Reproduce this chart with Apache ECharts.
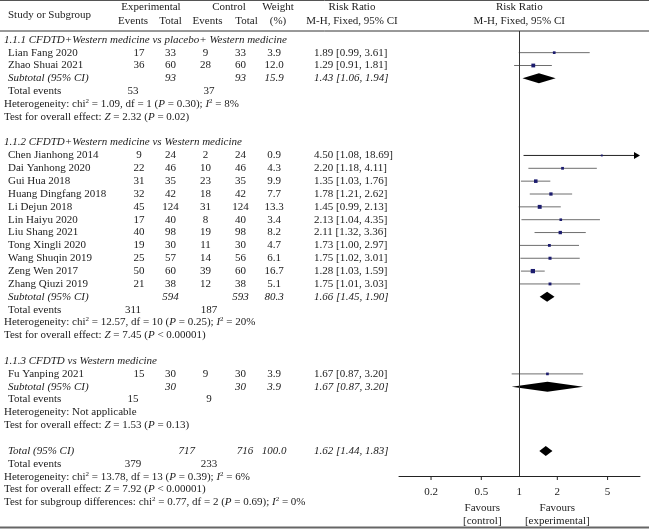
<!DOCTYPE html>
<html><head><meta charset="utf-8">
<script src="https://cdn.jsdelivr.net/npm/echarts@6/dist/echarts.min.js"></script>
<style>html,body{margin:0;padding:0;background:#fff}#c{width:649px;height:531px}</style>
</head><body><div id="c"></div>
<script>
// ---------- data ----------
const groupTitles = ['1.1.1 CFDTD+Western medicine vs placebo+ Western medicine', '1.1.2 CFDTD+Western medicine vs Western medicine', '1.1.3 CFDTD vs Western medicine'];
const studyNames = ['Lian Fang 2020', 'Zhao Shuai 2021', 'Chen Jianhong 2014', 'Dai Yanhong 2020', 'Gui Hua 2018', 'Huang Dingfang 2018', 'Li Dejun 2018', 'Lin Haiyu 2020', 'Liu Shang 2021', 'Tong Xingli 2020', 'Wang Shuqin 2019', 'Zeng Wen 2017', 'Zhang Qiuzi 2019', 'Fu Yanping 2021'];
const studyGroup = [0, 0, 1, 1, 1, 1, 1, 1, 1, 1, 1, 1, 1, 2];
const expEvents = [17, 36, 9, 22, 31, 32, 45, 17, 40, 19, 25, 50, 21, 15];
const expTotal = [33, 60, 24, 46, 35, 42, 124, 40, 98, 30, 57, 60, 38, 30];
const ctrlEvents = [9, 28, 2, 10, 23, 18, 31, 8, 19, 11, 14, 39, 12, 9];
const ctrlTotal = [33, 60, 24, 46, 35, 42, 124, 40, 98, 30, 56, 60, 38, 30];
const studyWeight = [3.9, 12.0, 0.9, 4.3, 9.9, 7.7, 13.3, 3.4, 8.2, 4.7, 6.1, 16.7, 5.1, 3.9];
const studyRR = [1.89, 1.29, 4.50, 2.20, 1.35, 1.78, 1.45, 2.13, 2.11, 1.73, 1.75, 1.28, 1.75, 1.67];
const studyLow = [0.99, 0.91, 1.08, 1.18, 1.03, 1.21, 0.99, 1.04, 1.32, 1.00, 1.02, 1.03, 1.01, 0.87];
const studyHigh = [3.61, 1.81, 18.69, 4.11, 1.76, 2.62, 2.13, 4.35, 3.36, 2.97, 3.01, 1.59, 3.03, 3.20];

const groupExpEvents = [53, 311, 15];
const groupCtrlEvents = [37, 187, 9];
const groupExpTotal = [93, 594, 30];
const groupCtrlTotal = [93, 593, 30];
const groupWeight = [15.9, 80.3, 3.9];
const groupRR = [1.43, 1.66, 1.67];
const groupLow = [1.06, 1.45, 0.87];
const groupHigh = [1.94, 1.90, 3.20];
const groupHetChi = [1.09, 12.57, null];
const groupHetDf = [1, 10, null];
const groupHetP = ['0.30', '0.25', null];
const groupHetI2 = [8, 20, null];
const groupZ = [2.32, 7.45, 1.53];
const groupZP = ['= 0.02', '< 0.00001', '= 0.13'];

const totalEvents = [379, 233];
const totalN = [717, 716];
const totalWeight = '100.0';
const totalCI = [1.62, 1.44, 1.83];
const totalHet = [13.78, 13, '0.39', 6];
const totalTest = [7.92, '< 0.00001'];
const subgroupTest = [0.77, 2, '0.69', 0];

const tickValues = [0.2, 0.5, 1, 2, 5];
const tickLabels = ['0.2', '0.5', '1', '2', '5'];

// ---------- layout ----------
const FONT = '"Liberation Serif", "Times New Roman", serif';
const FS = 11;
const TXT = '#222';
const X_MIN = 0.1115, X_MAX = 9.03;
const ROW0 = 39.8, ROWPX = 12.85, GTOP = 31, GBOT = 476;
const Y_MIN = -(ROW0 - GTOP) / ROWPX;
const Y_MAX = Y_MIN + (GBOT - GTOP) / ROWPX;
const COL = { name: 8, note: 4, ee: 139, ete: 133, et: 170.5, ce: 205.5, cte: 209, ct: 240.5, w: 274, rr: 314, ett: 186.7, ctt: 245 };

// ---------- rows ----------
const rows = [];
let r = 0;
groupTitles.forEach((t, g) => {
  rows.push({ kind: 'title', g, row: r++ });
  studyNames.forEach((n, i) => { if (studyGroup[i] === g) rows.push({ kind: 'study', i, row: r++ }); });
  rows.push({ kind: 'subtotal', g, row: r++ });
  rows.push({ kind: 'events', a: groupExpEvents[g], b: groupCtrlEvents[g], row: r++ });
  rows.push({ kind: 'het', g, row: r++ });
  rows.push({ kind: 'test', z: groupZ[g], p: groupZP[g], row: r++ });
  r++;
});
rows.push({ kind: 'total', row: r++ });
rows.push({ kind: 'events', a: totalEvents[0], b: totalEvents[1], row: r++ });
rows.push({ kind: 'het', g: -1, row: r++ });
rows.push({ kind: 'test', z: totalTest[0], p: totalTest[1], row: r++ });
rows.push({ kind: 'sub', row: r++ });

const rowOfStudy = studyNames.map((n, i) => rows.find(o => o.kind === 'study' && o.i === i).row);
const rowOfSubtotal = groupTitles.map((t, g) => rows.find(o => o.kind === 'subtotal' && o.g === g).row);
const rowOfTotal = rows.find(o => o.kind === 'total').row;

const f2 = v => v.toFixed(2);
const ciText = (m, l, h) => `${f2(m)} [${f2(l)}, ${f2(h)}]`;

const rich = {
  n: { fontFamily: FONT, fontSize: FS, fill: TXT, lineHeight: 13 },
  i: { fontFamily: FONT, fontSize: FS, fontStyle: 'italic', fill: TXT, lineHeight: 13 },
  s: { fontFamily: FONT, fontSize: 7, fill: TXT, lineHeight: 8, verticalAlign: 'top' }
};
const hetRich = (chi, df, p, i2) =>
  `{n|Heterogeneity: chi}{s|2}{n| = ${chi}, df = ${df} (}{i|P}{n| = ${p}); }{i|I}{s|2}{n| = ${i2}%}`;
const testRich = (z, p) => `{n|Test for overall effect: }{i|Z}{n| = ${z} (}{i|P}{n| ${p})}`;
const subRich = (chi, df, p, i2) =>
  `{n|Test for subgroup differences: chi}{s|2}{n| = ${chi}, df = ${df} (}{i|P}{n| = ${p}); }{i|I}{s|2}{n| = ${i2}%}`;

function txt(x, y, s, align, italic) {
  return { type: 'text', style: { x, y, text: String(s), align: align || 'left', verticalAlign: 'middle',
    textAlign: align || 'left', textVerticalAlign: 'middle',
    font: (italic ? 'italic ' : '') + FS + 'px ' + FONT, fill: TXT } };
}
function richTxt(x, y, s) {
  return { type: 'text', style: { x, y, text: s, rich, align: 'left', verticalAlign: 'middle',
    textAlign: 'left', textVerticalAlign: 'middle', font: FS + 'px ' + FONT, fill: TXT } };
}

function renderText(params, api) {
  const o = rows[params.dataIndex];
  const y = api.coord([1, o.row])[1];
  const c = [];
  if (o.kind === 'title') c.push(txt(COL.note, y, groupTitles[o.g], 'left', true));
  else if (o.kind === 'study') {
    const i = o.i;
    c.push(txt(COL.name, y, studyNames[i]));
    c.push(txt(COL.ee, y, expEvents[i], 'center'));
    c.push(txt(COL.et, y, expTotal[i], 'center'));
    c.push(txt(COL.ce, y, ctrlEvents[i], 'center'));
    c.push(txt(COL.ct, y, ctrlTotal[i], 'center'));
    c.push(txt(COL.w, y, studyWeight[i].toFixed(1), 'center'));
    c.push(txt(COL.rr, y, ciText(studyRR[i], studyLow[i], studyHigh[i])));
  } else if (o.kind === 'subtotal') {
    const g = o.g;
    c.push(txt(COL.name, y, 'Subtotal (95% CI)', 'left', true));
    c.push(txt(COL.et, y, groupExpTotal[g], 'center', true));
    c.push(txt(COL.ct, y, groupCtrlTotal[g], 'center', true));
    c.push(txt(COL.w, y, groupWeight[g].toFixed(1), 'center', true));
    c.push(txt(COL.rr, y, ciText(groupRR[g], groupLow[g], groupHigh[g]), 'left', true));
  } else if (o.kind === 'events') {
    c.push(txt(COL.name, y, 'Total events'));
    c.push(txt(COL.ete, y, o.a, 'center'));
    c.push(txt(COL.cte, y, o.b, 'center'));
  } else if (o.kind === 'het') {
    if (o.g >= 0 && groupHetChi[o.g] == null) c.push(txt(COL.note, y, 'Heterogeneity: Not applicable'));
    else if (o.g >= 0) c.push(richTxt(COL.note, y, hetRich(f2(groupHetChi[o.g]), groupHetDf[o.g], groupHetP[o.g], groupHetI2[o.g])));
    else c.push(richTxt(COL.note, y, hetRich(f2(totalHet[0]), totalHet[1], totalHet[2], totalHet[3])));
  } else if (o.kind === 'test') {
    c.push(richTxt(COL.note, y, testRich(f2(o.z), o.p)));
  } else if (o.kind === 'total') {
    c.push(txt(COL.name, y, 'Total (95% CI)', 'left', true));
    c.push(txt(COL.ett, y, totalN[0], 'center', true));
    c.push(txt(COL.ctt, y, totalN[1], 'center', true));
    c.push(txt(COL.w, y, totalWeight, 'center', true));
    c.push(txt(COL.rr, y, ciText(totalCI[0], totalCI[1], totalCI[2]), 'left', true));
  } else if (o.kind === 'sub') {
    c.push(richTxt(COL.note, y, subRich(f2(subgroupTest[0]), subgroupTest[1], subgroupTest[2], subgroupTest[3])));
  }
  return { type: 'group', children: c };
}

function renderStudy(params, api) {
  const m = api.value(0), row = api.value(1), lo = api.value(2), hi = api.value(3), w = api.value(4);
  const pLo = api.coord([Math.max(lo, X_MIN), row]);
  const pHi = api.coord([Math.min(hi, X_MAX), row]);
  const pM = api.coord([m, row]);
  const clipped = hi > X_MAX;
  const ch = [{ type: 'line', shape: { x1: pLo[0], y1: pLo[1], x2: pHi[0] - (clipped ? 4 : 0), y2: pHi[1] },
    style: { stroke: clipped ? '#222' : '#6e6e6e', lineWidth: 1 } }];
  if (clipped) ch.push({ type: 'polygon', shape: { points: [[pHi[0], pHi[1]], [pHi[0] - 6, pHi[1] - 3.5], [pHi[0] - 6, pHi[1] + 3.5]] }, style: { fill: '#000' } });
  const s = 1.2 + Math.sqrt(w) * 0.75;
  ch.push({ type: 'rect', shape: { x: pM[0] - s / 2, y: pM[1] - s / 2, width: s, height: s }, style: { fill: '#1c1c6e' } });
  return { type: 'group', children: ch };
}

function renderDiamond(params, api) {
  const m = api.value(0), row = api.value(1), lo = api.value(2), hi = api.value(3);
  const pL = api.coord([lo, row]), pH = api.coord([hi, row]), pM = api.coord([m, row]);
  const h = 5;
  return { type: 'polygon', shape: { points: [[pL[0], pL[1]], [pM[0], pM[1] - h], [pH[0], pH[1]], [pM[0], pM[1] + h]] }, style: { fill: '#000' } };
}

function renderTicks(params, api) {
  const v = api.value(0);
  const p = api.coord([v, Y_MAX]);
  const ch = [];
  if (v !== 1) ch.push({ type: 'line', shape: { x1: p[0], y1: p[1], x2: p[0], y2: p[1] + 4 }, style: { stroke: '#222', lineWidth: 1 } });
  ch.push(txt(p[0], p[1] + 16, tickLabels[params.dataIndex], 'center'));
  return { type: 'group', children: ch };
}

const chart = echarts.init(document.getElementById('c'), null, { renderer: 'canvas' });
chart.setOption({
  animation: false,
  backgroundColor: '#fff',
  grid: { left: 399, right: 9, top: GTOP, bottom: 531 - GBOT, containLabel: false },
  xAxis: { type: 'log', logBase: 10, min: X_MIN, max: X_MAX,
    axisLine: { show: true, onZero: false, lineStyle: { color: '#222', width: 1 } },
    axisTick: { show: false }, axisLabel: { show: false }, splitLine: { show: false } },
  yAxis: { type: 'value', inverse: true, min: Y_MIN, max: Y_MAX, show: false },
  graphic: [
    { type: 'line', shape: { x1: 0, y1: 0.5, x2: 649, y2: 0.5 }, style: { stroke: '#555', lineWidth: 1 } },
    { type: 'line', shape: { x1: 0, y1: 31, x2: 649, y2: 31 }, style: { stroke: '#333', lineWidth: 1 } },
    { type: 'line', shape: { x1: 0, y1: 527.5, x2: 649, y2: 527.5 }, style: { stroke: '#666', lineWidth: 2 } },
    Object.assign(txt(8, 15, 'Study or Subgroup'), {}),
    txt(151, 7.5, 'Experimental', 'center'),
    txt(133, 21.5, 'Events', 'center'),
    txt(170.5, 21.5, 'Total', 'center'),
    txt(229, 7.5, 'Control', 'center'),
    txt(207.5, 21.5, 'Events', 'center'),
    txt(246.5, 21.5, 'Total', 'center'),
    txt(278, 7.5, 'Weight', 'center'),
    txt(278, 21.5, '(%)', 'center'),
    txt(352, 7.5, 'Risk Ratio', 'center'),
    txt(352, 21.5, 'M-H, Fixed, 95% CI', 'center'),
    txt(519.3, 7.5, 'Risk Ratio', 'center'),
    txt(519.3, 21.5, 'M-H, Fixed, 95% CI', 'center'),
    txt(482.3, 508.3, 'Favours', 'center'),
    txt(482.3, 520.7, '[control]', 'center'),
    txt(557.3, 508.3, 'Favours', 'center'),
    txt(557.3, 520.7, '[experimental]', 'center')
  ],
  series: [
    { type: 'custom', name: 'text', clip: false, silent: true, renderItem: renderText,
      data: rows.map(o => [1, o.row]) },
    { type: 'custom', name: 'studies', clip: false, silent: true, renderItem: renderStudy,
      encode: { x: 0, y: 1 },
      data: studyRR.map((v, i) => [v, rowOfStudy[i], studyLow[i], studyHigh[i], studyWeight[i]]),
      markLine: { silent: true, symbol: 'none', label: { show: false },
        lineStyle: { color: '#333', width: 1, type: 'solid' }, data: [{ xAxis: 1 }] } },
    { type: 'custom', name: 'pooled', clip: false, silent: true, renderItem: renderDiamond,
      encode: { x: 0, y: 1 },
      data: groupRR.map((v, g) => [v, rowOfSubtotal[g], groupLow[g], groupHigh[g]]).concat([[totalCI[0], rowOfTotal, totalCI[1], totalCI[2]]]) },
    { type: 'custom', name: 'ticks', clip: false, silent: true, renderItem: renderTicks,
      encode: { x: 0 },
      data: tickValues.map(v => [v]) }
  ]
});
</script>
</body></html>
